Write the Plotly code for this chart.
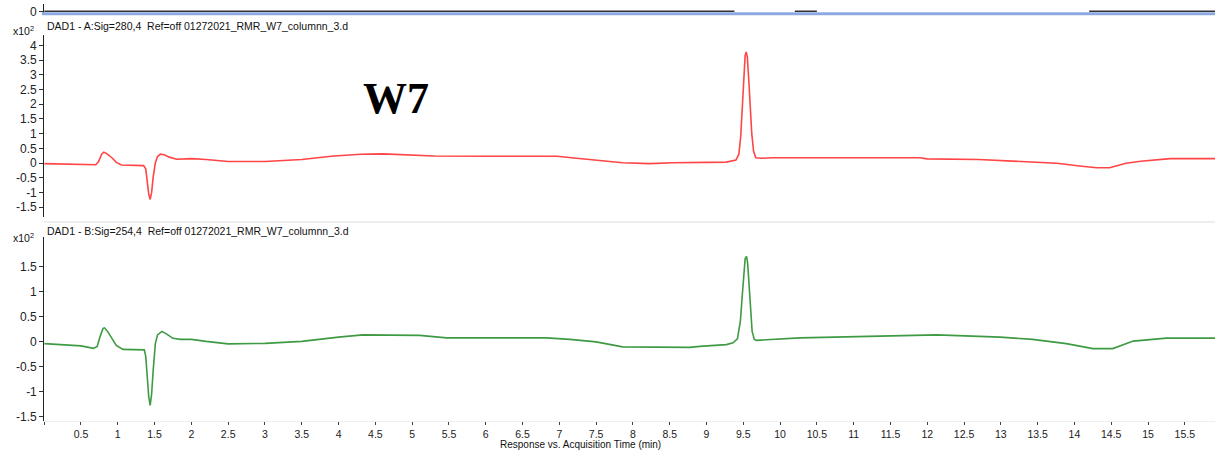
import plotly.graph_objects as go

# DAD1-A, 280 nm (x10^2 counts) versus retention time (min)
time_a = [0.0, 0.3, 0.6, 0.7, 0.74, 0.78, 0.81, 0.85, 0.92, 0.98, 1.05, 1.2, 1.35,
          1.38, 1.4, 1.42, 1.44, 1.46, 1.48, 1.51, 1.54, 1.58, 1.63, 1.7, 1.8, 1.9,
          2.0, 2.2, 2.5, 3.0, 3.5, 3.9, 4.3, 4.6, 5.0, 5.3, 6.0, 6.97, 7.2, 7.6,
          7.86, 8.23, 8.54, 9.0, 9.27, 9.4, 9.44, 9.465, 9.485, 9.505, 9.525, 9.54,
          9.555, 9.575, 9.595, 9.615, 9.64, 9.67, 9.75, 9.9, 11.9, 12.0, 12.7,
          13.17, 13.5, 13.76, 14.07, 14.3, 14.48, 14.7, 14.9, 15.1, 15.3, 15.91]
signal_a = [-0.02, -0.03, -0.05, -0.06, 0.05, 0.3, 0.37, 0.32, 0.18, 0.02, -0.07, -0.08, -0.09,
            -0.2, -0.6, -1.05, -1.24, -1.0, -0.5, 0.0, 0.22, 0.3, 0.28, 0.2, 0.13, 0.14,
            0.15, 0.12, 0.05, 0.05, 0.12, 0.23, 0.3, 0.31, 0.27, 0.24, 0.23, 0.23, 0.17, 0.08,
            0.01, -0.02, 0.01, 0.02, 0.03, 0.1, 0.3, 0.9, 1.9, 3.0, 3.65, 3.78,
            3.6, 2.8, 1.9, 1.0, 0.4, 0.18, 0.16, 0.18, 0.18, 0.14, 0.12,
            0.07, 0.03, -0.01, -0.1, -0.16, -0.16, -0.01, 0.06, 0.1, 0.15, 0.15]

# DAD1-B, 254 nm (x10^2 counts) versus retention time (min)
time_b = [0.0, 0.3, 0.5, 0.67, 0.72, 0.76, 0.8, 0.82, 0.86, 0.92, 0.98, 1.07, 1.2, 1.36,
          1.38, 1.4, 1.42, 1.44, 1.46, 1.48, 1.51, 1.54, 1.6, 1.66, 1.75, 1.85, 2.0,
          2.2, 2.5, 3.0, 3.5, 4.0, 4.33, 5.1, 5.47, 6.83, 7.14, 7.5, 7.86, 8.77, 8.91,
          9.27, 9.36, 9.42, 9.46, 9.485, 9.505, 9.525, 9.545, 9.56, 9.58, 9.6, 9.62,
          9.65, 9.68, 10.27, 11.27, 12.13, 12.99, 13.43, 13.89, 14.25, 14.52, 14.8,
          15.25, 15.91]
signal_b = [-0.045, -0.07, -0.09, -0.14, -0.1, 0.1, 0.26, 0.27, 0.2, 0.06, -0.08, -0.16, -0.16, -0.17,
            -0.3, -0.7, -1.1, -1.28, -1.05, -0.6, -0.05, 0.13, 0.2, 0.15, 0.06, 0.04, 0.04,
            0.0, -0.05, -0.04, 0.0, 0.085, 0.13, 0.12, 0.07, 0.07, 0.04, -0.01, -0.11, -0.12, -0.1,
            -0.065, -0.03, 0.05, 0.4, 0.9, 1.4, 1.65, 1.70, 1.55, 1.1, 0.6, 0.2,
            0.04, 0.02, 0.07, 0.105, 0.13, 0.085, 0.04, -0.045, -0.145, -0.145, 0.005,
            0.065, 0.065]

# Tail of the preceding trace visible at the top edge
time_prev = [0.0, 9.38, None, 10.2, 10.5, None, 14.2, 15.91]
signal_prev = [0.0, 0.0, None, 0.0, 0.0, None, 0.0, 0.0]

x_ticks = [0.5 * k for k in range(1, 32)]
x_labels = [f"{v:g}" for v in x_ticks]
ya_ticks = [4, 3.5, 3, 2.5, 2, 1.5, 1, 0.5, 0, -0.5, -1, -1.5]
ya_labels = [f"{v:g}" for v in ya_ticks]
yb_ticks = [1.5, 1, 0.5, 0, -0.5, -1, -1.5]
yb_labels = [f"{v:g}" for v in yb_ticks]

W, H = 1215, 455
LEFT = 44.2


def py(px):
    """Convert a pixel row (from top) into paper y."""
    return 1 - px / H


fig = go.Figure()
fig.add_trace(go.Scatter(x=time_prev, y=signal_prev, mode="lines", yaxis="y3",
                         line=dict(color="#333333", width=1.5), hoverinfo="skip"))
fig.add_trace(go.Scatter(x=time_a, y=signal_a, mode="lines", yaxis="y2",
                         line=dict(color="#ff4545", width=1.6)))
fig.add_trace(go.Scatter(x=time_b, y=signal_b, mode="lines", yaxis="y",
                         line=dict(color="#3f9a44", width=1.6)))

tick_font = dict(family="Liberation Sans, Arial", size=12, color="#222222")

fig.update_layout(
    width=W, height=H,
    margin=dict(l=0, r=0, t=0, b=0),
    paper_bgcolor="white", plot_bgcolor="white",
    showlegend=False,
    xaxis=dict(domain=[LEFT / W, 1], range=[0, 15.91], anchor="y",
               tickvals=[0] + x_ticks, ticktext=[""] + x_labels,
               ticks="outside", ticklen=3, tickcolor="#444444",
               showline=True, linecolor="#eeeeee", linewidth=1,
               showgrid=False, zeroline=False,
               tickfont=dict(family="Liberation Sans Narrow, Liberation Sans, Arial", size=10.5,
                             color="#222222")),
    yaxis=dict(domain=[py(427), py(240)], range=[-1.6, 2.09],
               tickvals=yb_ticks, ticktext=yb_labels,
               ticks="outside", ticklen=4, tickcolor="#333333",
               showline=True, linecolor="#222222", linewidth=1,
               showgrid=False, zeroline=False, tickfont=tick_font),
    yaxis2=dict(domain=[py(220), py(35)], range=[-1.84, 4.37], anchor="x",
                tickvals=ya_ticks, ticktext=ya_labels,
                ticks="outside", ticklen=4, tickcolor="#333333",
                showline=True, linecolor="#222222", linewidth=1,
                showgrid=False, zeroline=False, tickfont=tick_font),
    yaxis3=dict(domain=[py(13), py(4)], range=[-0.6, 3], anchor="x",
                tickvals=[0], ticktext=["0"],
                ticks="outside", ticklen=4, tickcolor="#333333",
                showline=True, linecolor="#222222", linewidth=1,
                showgrid=False, zeroline=False, tickfont=tick_font),
)

# Selection bar beneath the preceding trace and separator between panels
fig.add_shape(type="line", xref="paper", yref="paper", x0=LEFT / W - 0.002, x1=1,
              y0=py(14), y1=py(14), line=dict(color="#8caae0", width=3))
fig.add_shape(type="line", xref="paper", yref="paper", x0=LEFT / W, x1=1,
              y0=py(225), y1=py(225), line=dict(color="#eeeeee", width=2))

label_font = dict(family="Liberation Sans, Arial", size=10.5, color="#111111")
fig.add_annotation(text="DAD1 - A:Sig=280,4  Ref=off 01272021_RMR_W7_columnn_3.d",
                   xref="paper", yref="paper", x=(LEFT + 1) / W, y=py(26),
                   xanchor="left", yanchor="middle", showarrow=False, font=label_font)
fig.add_annotation(text="DAD1 - B:Sig=254,4  Ref=off 01272021_RMR_W7_columnn_3.d",
                   xref="paper", yref="paper", x=(LEFT + 1) / W, y=py(234),
                   xanchor="left", yanchor="middle", showarrow=False, font=label_font)
for yy in (31, 241):
    fig.add_annotation(text="x10<sup>2</sup>", xref="paper", yref="paper",
                       x=36 / W, y=py(yy), xanchor="right", yanchor="middle",
                       showarrow=False, font=label_font)
fig.add_annotation(text="<b>W7</b>", xref="paper", yref="paper",
                   x=396 / W, y=py(100), xanchor="center", yanchor="middle",
                   showarrow=False,
                   font=dict(family="Liberation Serif, Times New Roman", size=44,
                             color="#000000"))
fig.add_annotation(text="Response vs. Acquisition Time (min)", xref="paper", yref="paper",
                   x=580 / W, y=py(450.5), xanchor="center", yanchor="middle",
                   showarrow=False, borderpad=0,
                   font=dict(family="Liberation Sans Narrow, Liberation Sans, Arial",
                             size=10, color="#111111"))

fig.write_html("out.html")
